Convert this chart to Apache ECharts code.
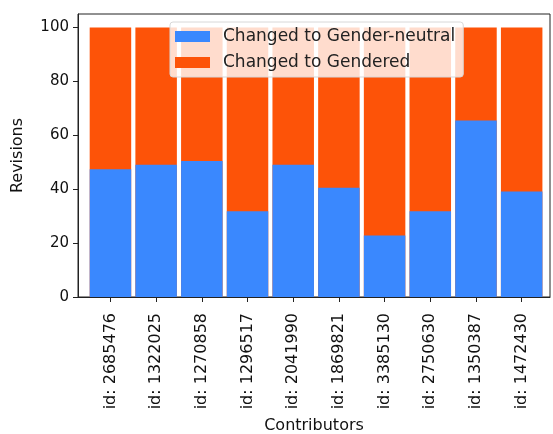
<!DOCTYPE html>
<html>
<head>
<meta charset="utf-8">
<script src="https://cdn.jsdelivr.net/npm/echarts@6/dist/echarts.min.js"></script>
<style>
  html, body { margin: 0; padding: 0; background: #fff; }
  #chart { width: 553px; height: 434px; }
</style>
</head>
<body>
<div id="chart"></div>
<script>
var contributors = ['id: 2685476', 'id: 1322025', 'id: 1270858', 'id: 1296517', 'id: 2041990',
                    'id: 1869821', 'id: 3385130', 'id: 2750630', 'id: 1350387', 'id: 1472430'];
var neutral = [47.4, 49.1, 50.5, 31.8, 49.1, 40.5, 22.8, 31.8, 65.5, 39.1];
var gendered = [52.6, 50.9, 49.5, 68.2, 50.9, 59.5, 77.2, 68.2, 34.5, 60.9];
var yTicks = [0, 20, 40, 60, 80, 100];

var idx = contributors.map(function (c, i) { return i; });
var font = 'DejaVu Sans';

// the gendered part sits on top of the neutral part, so its bar runs to the total
var totals = idx.map(function (i) { return neutral[i] + gendered[i]; });

var chart = echarts.init(document.getElementById('chart'));
chart.setOption({
  animation: false,
  textStyle: { fontFamily: font },
  grid: {
    left: 78, right: 3, top: 14, bottom: 137,
    outerBoundsMode: 'none',
    containLabel: false,
    show: true, borderColor: '#222', borderWidth: 1
  },
  legend: {
    orient: 'vertical',
    left: 170, top: 22,
    padding: [6, 8, 6, 5],
    itemGap: 9,
    itemWidth: 35, itemHeight: 11,
    icon: 'rect',
    backgroundColor: 'rgba(255,255,255,0.8)',
    borderColor: '#d8d8d8', borderWidth: 1, borderRadius: 3,
    textStyle: { fontFamily: font, fontSize: 17, color: '#222', padding: [0, 0, 0, 8] },
    data: ['Changed to Gender-neutral', 'Changed to Gendered']
  },
  xAxis: {
    type: 'value',
    min: -0.71, max: 9.62,
    name: 'Contributors',
    nameLocation: 'middle',
    nameGap: 121,
    nameTextStyle: { fontFamily: font, fontSize: 16, color: '#111' },
    splitLine: { show: false },
    axisLine: { show: true, onZero: false, lineStyle: { color: '#222' } },
    axisTick: { show: true, length: 5, customValues: idx, lineStyle: { color: '#222' } },
    axisLabel: {
      customValues: idx,
      rotate: 90, margin: 16,
      fontFamily: font, fontSize: 16, color: '#111',
      formatter: function (v) { return contributors[Math.round(v)]; }
    }
  },
  yAxis: {
    type: 'value',
    min: 0, max: 105,
    name: 'Revisions',
    nameLocation: 'middle',
    nameGap: 52,
    nameTextStyle: { fontFamily: font, fontSize: 16, color: '#111' },
    splitLine: { show: false },
    axisLine: { show: true, onZero: false, lineStyle: { color: '#222' } },
    axisTick: { show: true, length: 5, customValues: yTicks, lineStyle: { color: '#222' } },
    axisLabel: { customValues: yTicks, margin: 9, fontFamily: font, fontSize: 15, color: '#111' }
  },
  series: [
    {
      name: 'Changed to Gendered',
      type: 'bar',
      barWidth: 41.5,
      barGap: '-100%',
      z: 2,
      itemStyle: { color: '#fd5308' },
      data: idx.map(function (i) { return [i, totals[i]]; })
    },
    {
      name: 'Changed to Gender-neutral',
      type: 'bar',
      barWidth: 41.5,
      barGap: '-100%',
      z: 3,
      itemStyle: { color: '#3a88fe' },
      data: idx.map(function (i) { return [i, neutral[i]]; })
    }
  ]
});
</script>
</body>
</html>
